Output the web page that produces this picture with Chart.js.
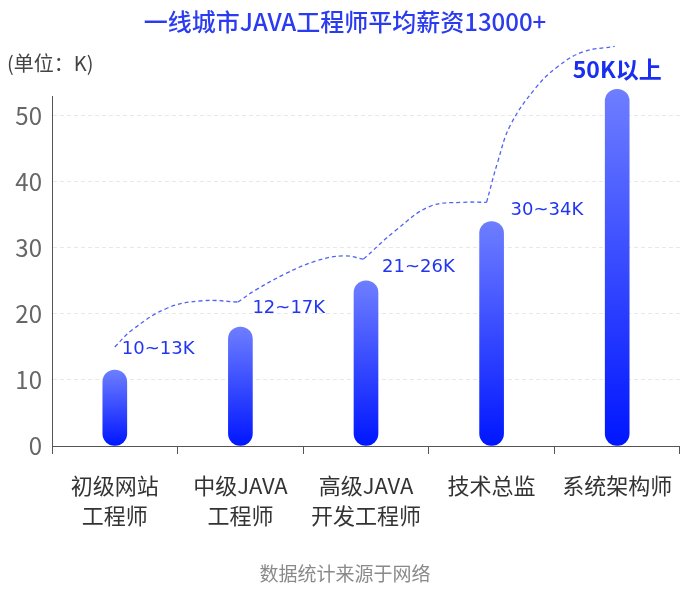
<!doctype html>
<html lang="zh">
<head>
  <meta charset="utf-8">
  <title>一线城市JAVA工程师平均薪资</title>
  <script src="https://cdn.jsdelivr.net/npm/chart.js"></script>
  <style>
    html, body { margin: 0; padding: 0; background: #fff; }
    #wrap { width: 690px; height: 590px; }
  </style>
</head>
<body>
  <div id="wrap"><canvas id="salaryChart" width="690" height="590"></canvas></div>

  <script>
    // chart values
    const categories = [
      ['初级网站', '工程师'],
      ['中级JAVA', '工程师'],
      ['高级JAVA', '开发工程师'],
      ['技术总监'],
      ['系统架构师']
    ];
    const salaryValues = [11.5, 18, 25, 34, 54];
    const rangeLabels = ['10~13K', '12~17K', '21~26K', '30~34K', '50K以上'];
    const yTicks = [0, 10, 20, 30, 40, 50];

    // dashed trend curve, traced as [category index, value], one array per arc
    const trendArc1 = [[0, 15], [0.14, 17.6], [0.42, 20.9], [0.7, 22], [0.98, 21.8]];
    const trendArc2 = [[0.98, 21.8], [1.12, 23.6], [1.35, 26], [1.6, 28], [1.82, 28.8], [1.98, 28.3]];
    const trendArc3 = [[1.98, 28.3], [2.24, 32.7], [2.51, 36.3], [2.77, 36.9], [2.96, 36.9]];
    const trendArc4 = [[2.96, 36.9], [3.05, 43.1], [3.15, 48.6], [3.35, 54.2], [3.53, 57.5], [3.73, 59.7], [3.98, 60.5]];

    const titleText = '一线城市JAVA工程师平均薪资13000+';
    const unitText = '(单位：K)';
    const sourceText = '数据统计来源于网络';

    const CJK = '"Noto Sans CJK SC", "Noto Sans", sans-serif';

    function barGradient(ctx) {
      const chart = ctx.chart;
      if (!chart.chartArea || ctx.raw === undefined) return '#2a3cff';
      const y = chart.scales.y;
      const top = y.getPixelForValue(ctx.raw);
      const bottom = y.getPixelForValue(0);
      const g = chart.ctx.createLinearGradient(0, top, 0, bottom);
      g.addColorStop(0, '#6e7eff');
      g.addColorStop(1, '#0016ff');
      return g;
    }

    function arcDataset(points) {
      return {
        type: 'line',
        xAxisID: 'x2',
        data: points.map(p => ({ x: p[0], y: p[1] })),
        borderColor: '#5263f2',
        borderWidth: 1.3,
        borderDash: [4, 3],
        pointRadius: 0,
        tension: 0.4,
        fill: false,
        clip: false
      };
    }

    // label placement next to each bar top: [dx, dy, align]
    const labelPlace = [[7, -21, 'left'], [12, -19, 'left'], [16, -14, 'left'], [19, -11, 'left'], [0, -20, 'center']];

    const textPlugin = {
      id: 'texts',
      afterDatasetsDraw(chart) {
        const c = chart.ctx;
        const meta = chart.getDatasetMeta(4);
        c.save();
        c.textBaseline = 'middle';
        meta.data.forEach((bar, i) => {
          const p = labelPlace[i];
          const last = i === rangeLabels.length - 1;
          c.font = last ? 'bold 23px ' + CJK : '18px "DejaVu Sans", ' + CJK;
          c.fillStyle = last ? '#1a2ef2' : '#2236f0';
          c.textAlign = p[2];
          c.fillText(rangeLabels[i], bar.x + p[0], bar.y + p[1]);
        });
        c.restore();
      },
      afterDraw(chart) {
        const c = chart.ctx;
        c.save();
        c.textBaseline = 'middle';
        c.textAlign = 'center';
        c.fillStyle = '#2a3bf0';
        c.font = '500 24px ' + CJK;
        c.fillText(titleText, 345, 22);
        c.textAlign = 'left';
        c.fillStyle = '#444';
        c.font = '20px ' + CJK;
        c.fillText(unitText, 7, 63);
        c.textAlign = 'center';
        c.fillStyle = '#8a8a8a';
        c.font = '19px ' + CJK;
        c.fillText(sourceText, 345, 574);
        c.restore();
      }
    };

    const ctx = document.getElementById('salaryChart').getContext('2d');
    new Chart(ctx, {
      data: {
        labels: categories,
        datasets: [
          arcDataset(trendArc1),
          arcDataset(trendArc2),
          arcDataset(trendArc3),
          arcDataset(trendArc4),
          {
            type: 'bar',
            data: salaryValues,
            backgroundColor: barGradient,
            barThickness: 24,
            borderRadius: 12,
            borderSkipped: false,
            grouped: false,
            clip: false
          }
        ]
      },
      options: {
        responsive: false,
        animation: false,
        layout: { padding: { top: 96, left: 12, right: 8, bottom: 0 } },
        plugins: {
          legend: { display: false },
          tooltip: { enabled: false }
        },
        scales: {
          x: {
            type: 'category',
            offset: true,
            grid: { display: true, drawOnChartArea: false, drawTicks: true, tickLength: 8, color: '#555', offset: true },
            border: { color: '#555', width: 1 },
            ticks: {
              color: '#333',
              font: { family: CJK, size: 22, lineHeight: 1.36 },
              padding: 17,
              autoSkip: false,
              maxRotation: 0
            },
            afterFit(scale) { scale.height = 144; }
          },
          x2: {
            type: 'linear',
            display: false,
            min: -0.5,
            max: 4.5
          },
          y: {
            min: 0,
            max: 53,
            afterBuildTicks(scale) { scale.ticks = yTicks.map(v => ({ value: v })); },
            grid: { color: '#e8e8e8', drawTicks: false },
            border: { color: '#555', width: 1, dash: [4, 3] },
            ticks: {
              color: '#666',
              font: { family: CJK, size: 24 },
              padding: 10
            },
            afterFit(scale) { scale.width = 40; }
          }
        }
      },
      plugins: [textPlugin]
    });
  </script>
</body>
</html>
